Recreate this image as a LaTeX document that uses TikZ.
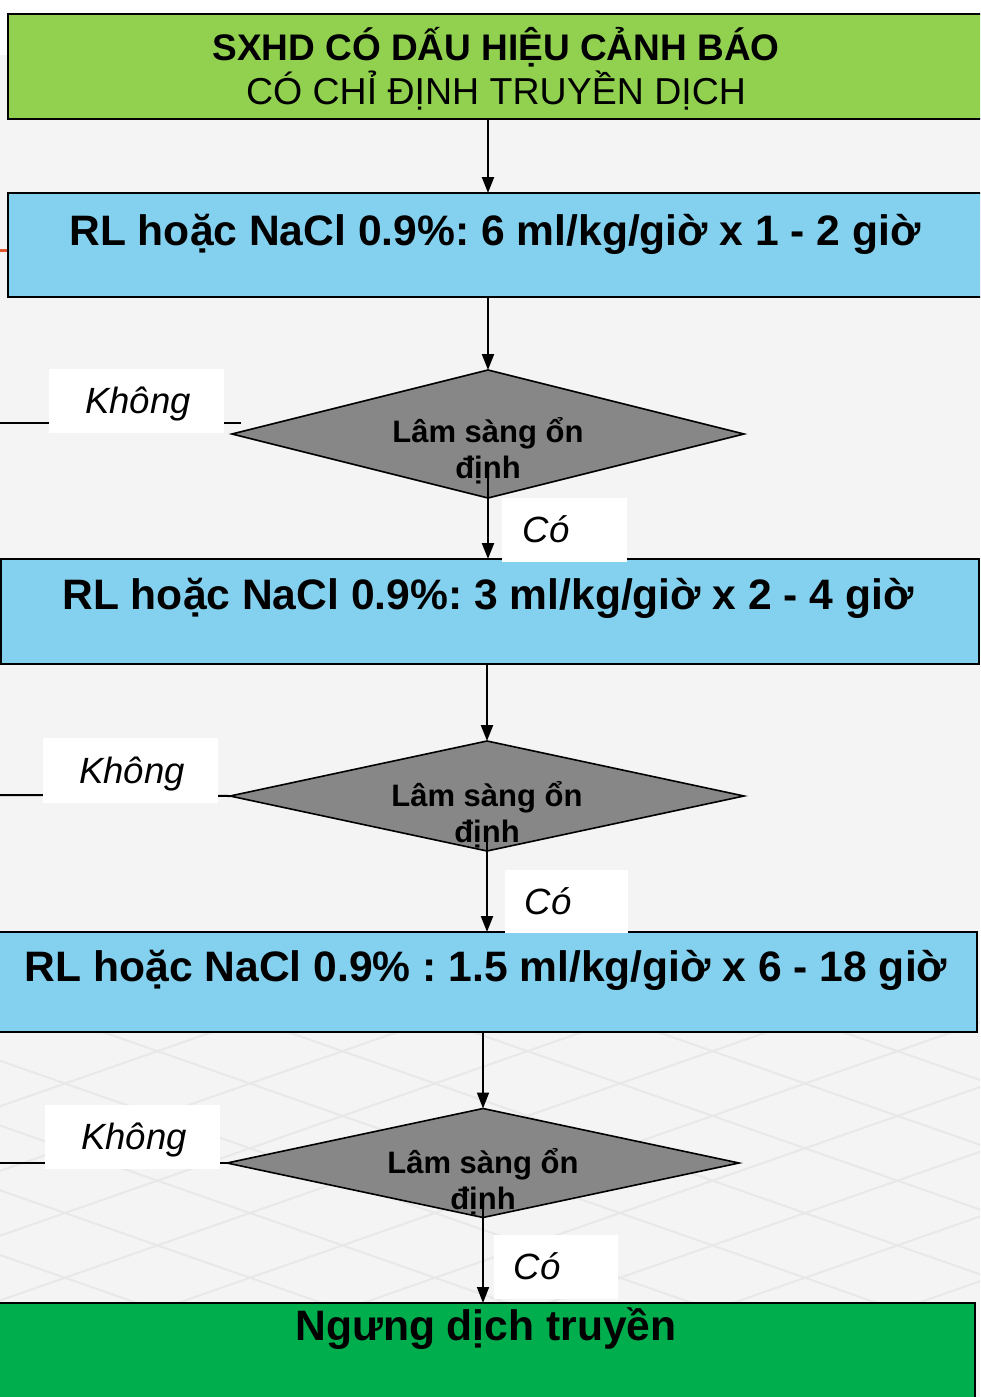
\documentclass[tikz,border=0pt]{standalone}
\usepackage{fontspec}
\setmainfont{Liberation Sans}
\usetikzlibrary{arrows.meta,shapes.geometric,calc}
\definecolor{bg}{HTML}{F4F4F4}
\definecolor{topgreen}{HTML}{92D050}
\definecolor{skyb}{HTML}{83D1EF}
\definecolor{endgreen}{HTML}{00AE4E}
\definecolor{diagrey}{HTML}{878787}
\definecolor{gridc}{HTML}{E8E8E8}
\definecolor{orangeline}{HTML}{E2572B}
\frenchspacing
\begin{document}
\begin{tikzpicture}[x=1pt,y=-1pt,
 box/.style={draw=black, line width=2pt, inner sep=0pt, outer sep=0pt},
 dia/.style={diamond, draw=black, line width=1.6pt, fill=diagrey, inner sep=0pt, outer sep=0pt},
 boxtext/.style={anchor=base, inner sep=0pt, font=\fontsize{42.6}{50}\selectfont\bfseries},
 diatext/.style={anchor=base, inner sep=0pt, font=\fontsize{31}{36}\selectfont\bfseries},
 lab/.style={fill=white, inner sep=0pt, outer sep=0pt, minimum height=64pt},
 labtext/.style={anchor=base, inner sep=0pt, font=\fontsize{36.5}{42}\selectfont\itshape},
 arr/.style={line width=2.2pt, -{Triangle[length=16pt,width=12pt]}},
 wire/.style={line width=2pt}
]
\useasboundingbox (0,0) rectangle (980,1397);
\clip (0,0) rectangle (980,1397);
\fill[bg] (0,0) rectangle (980,1397);
\fill[white] (0,0) rectangle (980,55);
% faint floor grid
\begin{scope}
\clip (0,1000) rectangle (980,1302);
\foreach \k in {-3,...,8} {
  \draw[gridc, line width=2pt] ({30+185*\k-1000},1640) -- ({30+185*\k+1000},940);
  \draw[gridc, line width=2pt] ({100+185*\k-1000},940) -- ({100+185*\k+1000},1640);
}
\end{scope}
\draw[orangeline, line width=3pt] (0,250) -- (8,250);

% boxes
\node[box, fill=topgreen, minimum width=982pt, minimum height=105pt] (b1) at (499,66.5) {};
\node[box, fill=skyb, minimum width=982pt, minimum height=104pt] (b2) at (499,245) {};
\node[box, fill=skyb, minimum width=978pt, minimum height=105pt] (b3) at (490,611.5) {};
\node[box, fill=skyb, minimum width=987pt, minimum height=100pt] (b4) at (483.5,982) {};
\node[box, fill=endgreen, minimum width=985pt, minimum height=107pt] (b5) at (482.5,1356.5) {};

\node[anchor=base, inner sep=0pt, font=\fontsize{37}{44}\selectfont\bfseries] (t1a) at (496,60) {SXHD CÓ DẤU HIỆU CẢNH BÁO};
\node[anchor=base, inner sep=0pt, font=\fontsize{37.5}{44}\selectfont] (t1b) at (496,104) {CÓ CHỈ ĐỊNH TRUYỀN DỊCH};
\node[boxtext] (t2) at (495,245) {RL hoặc NaCl 0.9\%: 6 ml/kg/giờ x 1 - 2 giờ};
\node[boxtext] (t3) at (488,609) {RL hoặc NaCl 0.9\%: 3 ml/kg/giờ x 2 - 4 giờ};
\node[boxtext] (t4) at (486,981) {RL hoặc NaCl 0.9\% : 1.5 ml/kg/giờ x 6 - 18 giờ};
\node[boxtext] (t5) at (486,1340) {Ngưng dịch truyền};

% diamonds
\node[dia, minimum width=512pt, minimum height=128pt] (d1) at (488,434) {};
\node[dia, minimum width=514pt, minimum height=110pt] (d2) at (487,796) {};
\node[dia, minimum width=512pt, minimum height=109pt] (d3) at (483,1163) {};
\node[diatext] (d1a) at (488,442) {Lâm sàng ổn};
\node[diatext] (d1b) at (488,478) {định};
\node[diatext] (d2a) at (487,806) {Lâm sàng ổn};
\node[diatext] (d2b) at (487,842) {định};
\node[diatext] (d3a) at (483,1173) {Lâm sàng ổn};
\node[diatext] (d3b) at (483,1209) {định};

% connectors
\draw[arr] (b1.south -| d1.north) -- (b2.north -| d1.north);
\draw[arr] (b2.south -| d1.north) -- (d1.north);
\draw[arr] ($(d1.south)+(0,-25)$) -- (d1.south |- b3.north);
\draw[arr] (b3.south -| d2.north) -- (d2.north);
\draw[arr] ($(d2.south)+(0,-20)$) -- (d2.south |- b4.north);
\draw[arr, line width=1.7pt] (b4.south -| d3.north) -- (d3.north);
\draw[arr, line width=1.7pt] ($(d3.south)+(0,-20)$) -- (d3.south |- b5.north);

\coordinate (n1) at ($(d1.west)+(9,-11)$);
\coordinate (e1) at (0,423);
\draw[wire] (n1) -- (e1);
\coordinate (e2) at (0,795);
\draw[wire] (d2.west) -- (e2);
\coordinate (e3) at (0,1163);
\draw[wire] (d3.west) -- (e3);

% labels
\node[lab, minimum width=175pt] (k1) at (136.5,401) {};
\node[labtext] (k1t) at (138,413) {Không};
\node[lab, minimum width=175pt, minimum height=65pt] (k2) at (130.5,770.5) {};
\node[labtext] (k2t) at (132,783) {Không};
\node[lab, minimum width=175pt] (k3) at (132.5,1137) {};
\node[labtext] (k3t) at (134,1149) {Không};
\node[lab, minimum width=125pt] (c1) at (564.5,530) {};
\node[labtext] (c1t) at (546,542) {Có};
\node[lab, minimum width=123pt, minimum height=63pt] (c2) at (566.5,901.5) {};
\node[labtext] (c2t) at (548,914) {Có};
\node[lab, minimum width=124pt] (c3) at (556,1267) {};
\node[labtext] (c3t) at (537,1279) {Có};
\end{tikzpicture}
\end{document}
